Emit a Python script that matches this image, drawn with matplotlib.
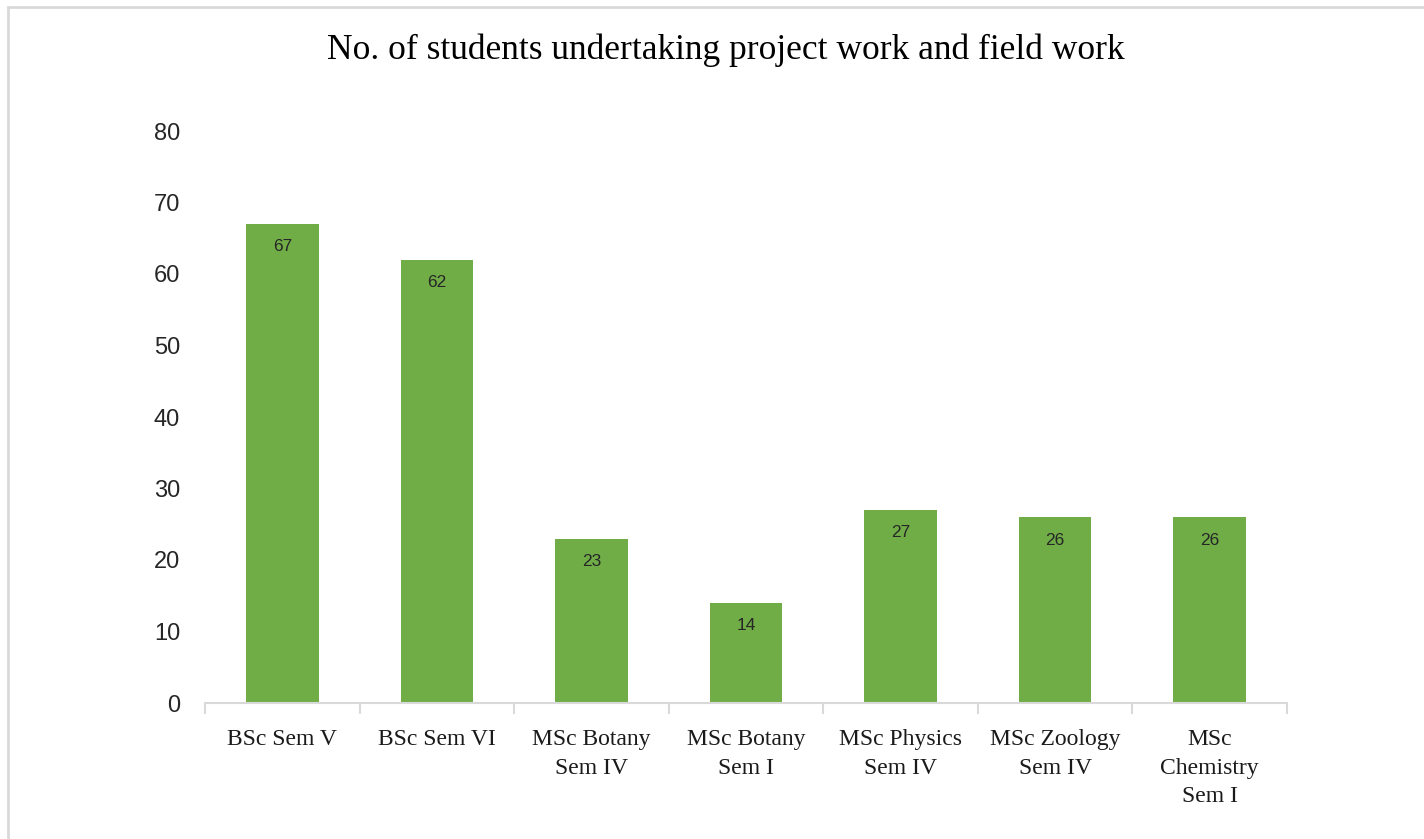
import numpy as np
import matplotlib.pyplot as plt
from matplotlib.patches import Rectangle

# ======================================================
# DATA
# ======================================================
categories = ["BSc Sem V", "BSc Sem VI", "MSc Botany\nSem IV", "MSc Botany\nSem I",
              "MSc Physics\nSem IV", "MSc Zoology\nSem IV", "MSc\nChemistry\nSem I"]
students = [67, 62, 23, 14, 27, 26, 26]
y_ticks = [0, 10, 20, 30, 40, 50, 60, 70, 80]

BAR_COLOR = "#70AD47"
AXIS_COLOR = "#D9D9D9"

# ======================================================
# FIGURE
# ======================================================
fig = plt.figure(figsize=(14.24, 8.39), dpi=100)
ax = fig.add_axes([205 / 1424, 1 - 703 / 839, (1287 - 205) / 1424, (703 - 131) / 839])

x = np.arange(len(categories))
bars = ax.bar(x, students, width=0.47, color=BAR_COLOR, zorder=2)

for xi, v in zip(x, students):
    ax.annotate(str(v), (xi, v), xytext=(0, -16.5), textcoords="offset points",
                ha="center", va="center", fontsize=12.5, color="#262626",
                family="Liberation Sans")

ax.set_xlim(-0.5, len(categories) - 0.5)
ax.set_ylim(0, 80)
ax.set_yticks(y_ticks)
ax.set_yticklabels([str(t) for t in y_ticks], family="Liberation Sans",
                   fontsize=17, color="#262626")
ax.tick_params(axis="y", length=0, pad=18)

ax.set_xticks(x)
ax.set_xticklabels(categories, family="Liberation Serif", fontsize=17,
                   color="#1a1a1a", linespacing=1.45)
ax.tick_params(axis="x", which="major", length=0, pad=19)
ax.set_xticks(np.arange(-0.5, len(categories), 1.0), minor=True)
ax.tick_params(axis="x", which="minor", length=8, width=1.5, color=AXIS_COLOR)

for side in ["top", "right", "left"]:
    ax.spines[side].set_visible(False)
ax.spines["bottom"].set_color(AXIS_COLOR)
ax.spines["bottom"].set_linewidth(1.5)

fig.text(726 / 1424, 1 - 50 / 839, "No. of students undertaking project work and field work",
         ha="center", va="center", family="Liberation Serif", fontsize=25.5, color="#000000")

# outer chart border
fig.patches.append(Rectangle((8 / 1424, -0.1), 1.1, 1 - 7 / 839 + 0.1,
                             transform=fig.transFigure, fill=False,
                             edgecolor=AXIS_COLOR, linewidth=2))

fig.savefig("out.png", dpi=100)
